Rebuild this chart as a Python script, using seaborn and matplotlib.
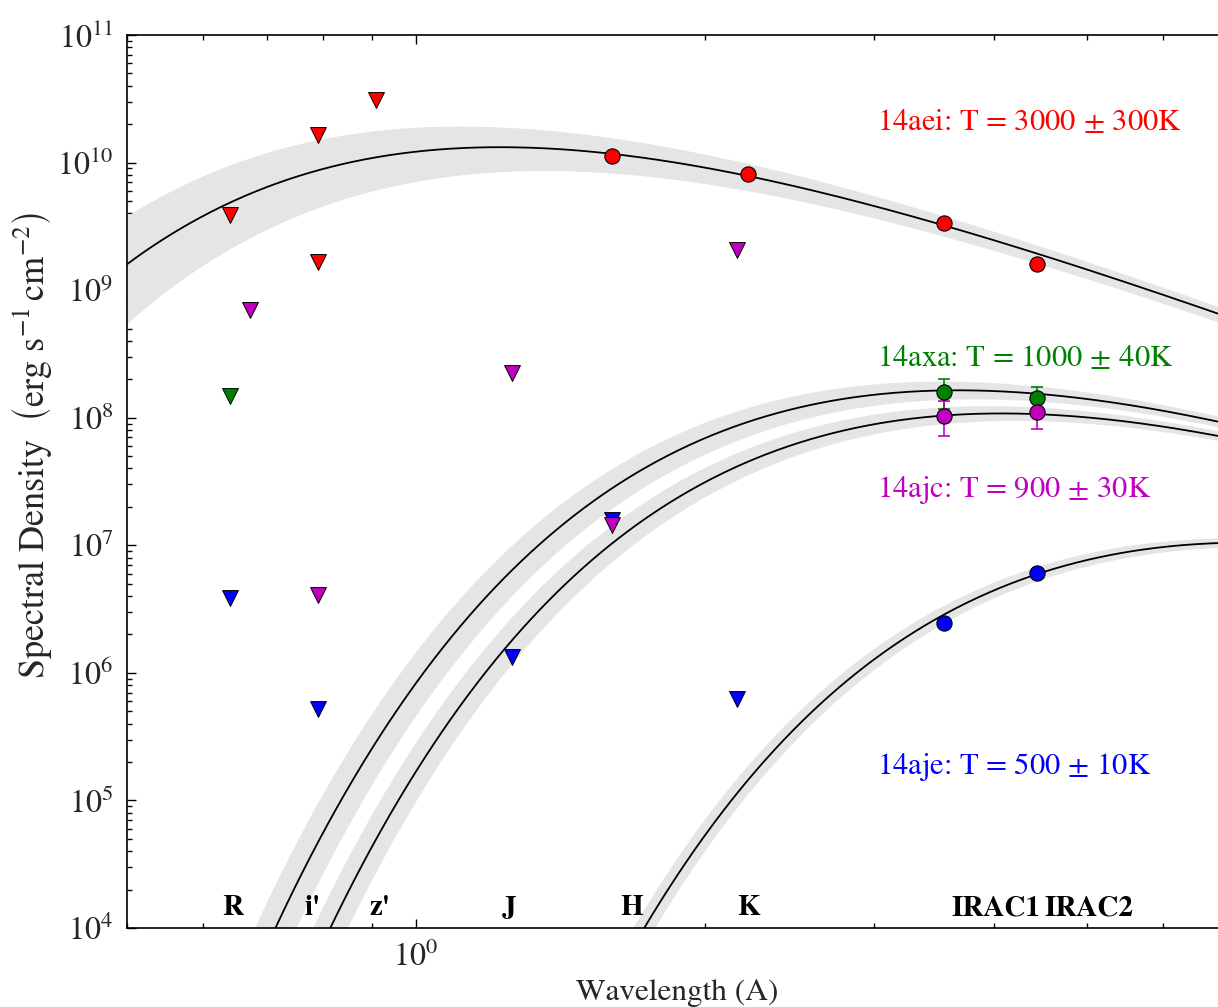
import numpy as np
import matplotlib
matplotlib.use("Agg")
import matplotlib.pyplot as plt
import seaborn as sns
from matplotlib.ticker import LogLocator, NullFormatter, LogFormatterMathtext

# ---- photometry (wavelength in micron, flux density) ----
# 14aei
aei_lim_wl = [0.640, 0.790, 0.909, 0.790]
aei_lim_f = [3.9e9, 1.64e10, 3.12e10, 1.67e9]
aei_det_wl = [1.60, 2.22, 3.55, 4.44]
aei_det_f = [1.12e10, 8.2e9, 3.34e9, 1.59e9]

# 14aje
aje_lim_wl = [0.640, 0.790, 1.259, 1.60, 2.16]
aje_lim_f = [3.86e6, 5.24e5, 1.32e6, 1.59e7, 6.24e5]
aje_det_wl = [3.55, 4.44]
aje_det_f = [2.46e6, 6.11e6]

# 14axa
axa_lim_wl = [0.640]
axa_lim_f = [1.48e8]
axa_det_wl = [3.55, 4.44]
axa_det_f = [1.58e8, 1.42e8]
axa_det_err = [4.2e7, 3.3e7]

# 14ajc
ajc_lim_wl = [0.671, 0.790, 1.259, 1.60, 2.16]
ajc_lim_f = [6.97e8, 4.06e6, 2.26e8, 1.44e7, 2.05e9]
ajc_det_wl = [3.55, 4.44]
ajc_det_f = [1.04e8, 1.11e8]
ajc_det_err = [3.2e7, 2.9e7]

# blackbody fits: temperature, uncertainty, peak of lambda*B_lambda
fit_names = ["14aei", "14axa", "14ajc", "14aje"]
fit_T = [3000, 1000, 900, 500]
fit_dT = [300, 40, 30, 10]
fit_peak = [1.32e10, 1.64e8, 1.08e8, 1.05e7]
fit_colors = ["#ff0000", "#008000", "#bf00bf", "#0000ff"]
fit_label_y = [1.8e10, 2.54e8, 2.39e7, 1.62e5]

# filter labels along the bottom
band_names = ["R", "i'", "z'", "J", "H", "K", "IRAC1", "IRAC2"]
band_wl = [0.645, 0.780, 0.917, 1.250, 1.680, 2.221, 4.02, 5.03]

HC_K = 14388.0  # micron K


def lam_b_lam(wl, T):
    wl = np.asarray(wl, dtype=float)
    return wl ** -4 / np.expm1(HC_K / (wl * T))


sns.set_theme(style="ticks")
plt.rcParams["font.family"] = ["STIXGeneral", "DejaVu Serif"]
plt.rcParams["mathtext.fontset"] = "stix"
plt.rcParams["axes.linewidth"] = 1.2

fig = plt.figure(figsize=(12.18, 10.07), dpi=100)
ax = fig.add_axes([127 / 1218, 79 / 1007, 1100 / 1218, 893 / 1007])
ax.set_xscale("log")
ax.set_yscale("log")
ax.set_xlim(0.5, 7.0)
ax.set_ylim(1e4, 1e11)

wl = np.geomspace(0.5, 7.0, 500)
for T, dT, pk in zip(fit_T, fit_dT, fit_peak):
    wl_pk = HC_K / (3.9207 * T)
    amp = pk / lam_b_lam(wl_pk, T)
    lo = amp * lam_b_lam(wl, T - dT)
    hi = amp * lam_b_lam(wl, T + dT)
    ax.fill_between(wl, lo, hi, color="#e5e5e5", lw=0, zorder=1)
for T, pk in zip(fit_T, fit_peak):
    wl_pk = HC_K / (3.9207 * T)
    amp = pk / lam_b_lam(wl_pk, T)
    sns.lineplot(x=wl, y=amp * lam_b_lam(wl, T), color="black", lw=1.3,
                 estimator=None, sort=False, ax=ax, zorder=2)

# error bars on the IRAC detections
ax.errorbar(axa_det_wl, axa_det_f, yerr=axa_det_err, fmt="none",
            ecolor="#008000", elinewidth=1.2, capsize=4, capthick=1.2, zorder=3)
ax.errorbar(ajc_det_wl, ajc_det_f, yerr=ajc_det_err, fmt="none",
            ecolor="#bf00bf", elinewidth=1.2, capsize=4, capthick=1.2, zorder=3)

groups = [
    (aei_lim_wl, aei_lim_f, aei_det_wl, aei_det_f, "#ff0000"),
    (aje_lim_wl, aje_lim_f, aje_det_wl, aje_det_f, "#0000ff"),
    (axa_lim_wl, axa_lim_f, axa_det_wl, axa_det_f, "#008000"),
    (ajc_lim_wl, ajc_lim_f, ajc_det_wl, ajc_det_f, "#bf00bf"),
]
z = 4
for lw_, lf, dw, df, c in groups:
    sns.scatterplot(x=lw_, y=lf, marker="v", s=130, color=c,
                    edgecolor="black", linewidth=0.7, ax=ax, zorder=z)
    sns.scatterplot(x=dw, y=df, marker="o", s=120, color=c,
                    edgecolor="black", linewidth=0.8, ax=ax, zorder=z + 0.5)
    z += 1

for name, T, dT, c, y in zip(fit_names, fit_T, fit_dT, fit_colors, fit_label_y):
    ax.text(3.02, y, f"{name}: T = {T}$\\,\\pm\\,${dT}K", color=c,
            fontsize=22, ha="left", va="baseline")

for name, x in zip(band_names, band_wl):
    ax.text(x, 1.26e4, name, fontsize=21, fontweight="bold", ha="center",
            va="baseline", color="black")

ax.xaxis.set_major_locator(LogLocator(base=10, numticks=10))
ax.xaxis.set_minor_locator(LogLocator(base=10, subs=np.arange(1, 10), numticks=20))
ax.xaxis.set_major_formatter(LogFormatterMathtext())
ax.xaxis.set_minor_formatter(NullFormatter())
ax.yaxis.set_major_locator(LogLocator(base=10, numticks=20))
ax.yaxis.set_minor_locator(LogLocator(base=10, subs=np.arange(2, 10), numticks=20))
ax.yaxis.set_major_formatter(LogFormatterMathtext())
ax.yaxis.set_minor_formatter(NullFormatter())

ax.tick_params(which="both", direction="in", top=True, right=True,
               labelsize=23, pad=10, width=1.0, color="black")
ax.tick_params(which="major", length=6.5)
ax.tick_params(which="minor", length=3.5)

ax.set_xlabel("Wavelength (A)", fontsize=22.5, labelpad=4)
ax.set_ylabel(r"Spectral Density  $\left(\mathrm{erg\ s^{-1}\,cm^{-2}}\right)$",
              fontsize=26)
ax.yaxis.set_label_coords(-0.066, 0.54)
for s in ax.spines.values():
    s.set_color("black")

fig.savefig("out.png", dpi=100)
